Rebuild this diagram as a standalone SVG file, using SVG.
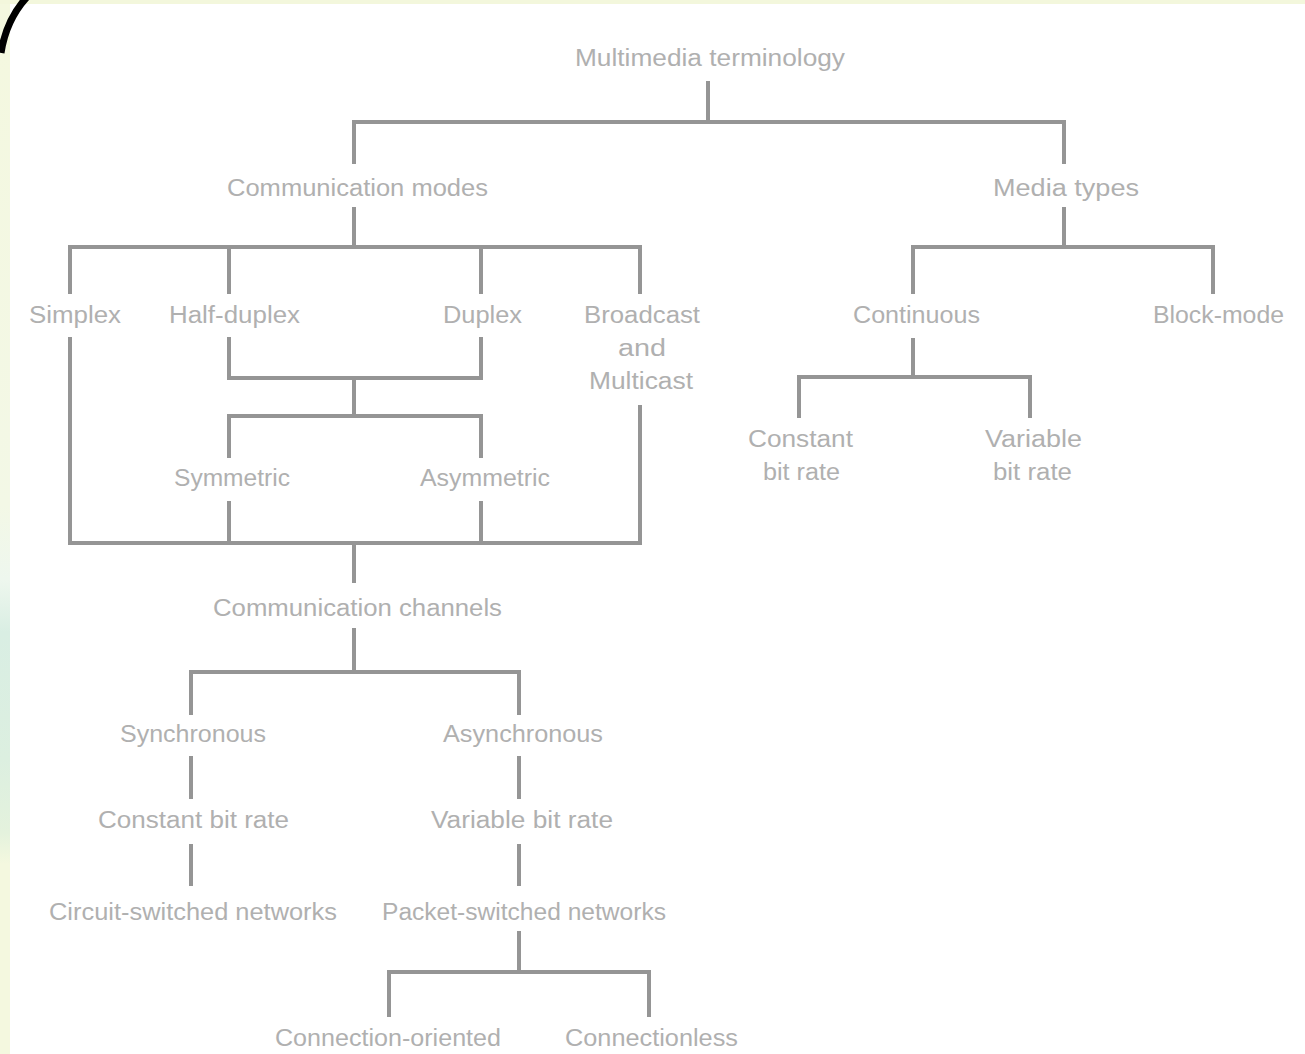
<svg xmlns="http://www.w3.org/2000/svg" width="1305" height="1054" viewBox="0 0 1305 1054">
  <defs>
    <linearGradient id="edge" x1="0" y1="0" x2="0" y2="1">
      <stop offset="0" stop-color="#f4f8df"/>
      <stop offset="0.48" stop-color="#f3f8e6"/>
      <stop offset="0.55" stop-color="#eef7ee"/>
      <stop offset="0.6" stop-color="#d9eee3"/>
      <stop offset="0.72" stop-color="#dcefe0"/>
      <stop offset="0.79" stop-color="#e4f2dd"/>
      <stop offset="0.82" stop-color="#f4f8df"/>
      <stop offset="1" stop-color="#f4f8df"/>
    </linearGradient>
  </defs>
  <style>
    .lbl { font-family: "Liberation Sans", Arial, sans-serif; font-size: 23px; fill: #b0b0b0; }
    .wire { fill: none; stroke: #959595; stroke-width: 4; stroke-linecap: butt; stroke-linejoin: miter; }
  </style>

  <!-- page background with the slide's tinted border -->
  <rect x="0" y="0" width="1305" height="1054" fill="#ffffff"/>
  <rect x="0" y="0" width="10" height="1054" fill="url(#edge)"/>
  <rect x="0" y="0" width="1305" height="4" fill="#f3f7dc"/>
  <path d="M1 53 Q 6 20 27 -3" fill="none" stroke="#000000" stroke-width="7"/>

  <!-- tree connectors -->
  <g id="connectors" class="wire">
    <path d="M708 81 V122"/>
    <path d="M354 164 V122 H1064 V164"/>
    <path d="M354 207 V247"/>
    <path d="M1064 207 V247"/>
    <path d="M70 294 V247 H640 V294"/>
    <path d="M229 247 V294"/>
    <path d="M481 247 V294"/>
    <path d="M229 337 V378 H481 V337"/>
    <path d="M354 378 V416"/>
    <path d="M229 458 V416 H481 V458"/>
    <path d="M229 501 V543"/>
    <path d="M481 501 V543"/>
    <path d="M70 337 V543 H640 V405"/>
    <path d="M354 543 V583"/>
    <path d="M354 628 V672"/>
    <path d="M191 715 V672 H519 V715"/>
    <path d="M191 756 V799"/>
    <path d="M519 756 V799"/>
    <path d="M191 844 V886"/>
    <path d="M519 844 V886"/>
    <path d="M519 931 V972"/>
    <path d="M389 1017 V972 H649 V1017"/>
    <path d="M913 294 V247 H1213 V294"/>
    <path d="M913 338 V377"/>
    <path d="M799 418 V377 H1030 V418"/>
  </g>

  <!-- nodes -->
  <g id="multimedia-terminology"><text class="lbl" x="575" y="66" textLength="270" lengthAdjust="spacingAndGlyphs">Multimedia terminology</text></g>
  <g id="communication-modes"><text class="lbl" x="227" y="196" textLength="261" lengthAdjust="spacingAndGlyphs">Communication modes</text></g>
  <g id="media-types"><text class="lbl" x="993" y="196" textLength="146" lengthAdjust="spacingAndGlyphs">Media types</text></g>
  <g id="simplex"><text class="lbl" x="29" y="323" textLength="92" lengthAdjust="spacingAndGlyphs">Simplex</text></g>
  <g id="half-duplex"><text class="lbl" x="169" y="323" textLength="131" lengthAdjust="spacingAndGlyphs">Half-duplex</text></g>
  <g id="duplex"><text class="lbl" x="443" y="323" textLength="79" lengthAdjust="spacingAndGlyphs">Duplex</text></g>
  <g id="broadcast-multicast">
    <text class="lbl" x="584" y="323" textLength="116" lengthAdjust="spacingAndGlyphs">Broadcast</text>
    <text class="lbl" x="618" y="356" textLength="48" lengthAdjust="spacingAndGlyphs">and</text>
    <text class="lbl" x="589" y="389" textLength="104" lengthAdjust="spacingAndGlyphs">Multicast</text>
  </g>
  <g id="continuous"><text class="lbl" x="853" y="323" textLength="127" lengthAdjust="spacingAndGlyphs">Continuous</text></g>
  <g id="block-mode"><text class="lbl" x="1153" y="323" textLength="131" lengthAdjust="spacingAndGlyphs">Block-mode</text></g>
  <g id="media-constant">
    <text class="lbl" x="748" y="447" textLength="105" lengthAdjust="spacingAndGlyphs">Constant</text>
    <text class="lbl" x="763" y="480" textLength="77" lengthAdjust="spacingAndGlyphs">bit rate</text>
  </g>
  <g id="media-variable">
    <text class="lbl" x="985" y="447" textLength="97" lengthAdjust="spacingAndGlyphs">Variable</text>
    <text class="lbl" x="993" y="480" textLength="79" lengthAdjust="spacingAndGlyphs">bit rate</text>
  </g>
  <g id="symmetric"><text class="lbl" x="174" y="486" textLength="116" lengthAdjust="spacingAndGlyphs">Symmetric</text></g>
  <g id="asymmetric"><text class="lbl" x="420" y="486" textLength="130" lengthAdjust="spacingAndGlyphs">Asymmetric</text></g>
  <g id="communication-channels"><text class="lbl" x="213" y="616" textLength="289" lengthAdjust="spacingAndGlyphs">Communication channels</text></g>
  <g id="synchronous"><text class="lbl" x="120" y="742" textLength="146" lengthAdjust="spacingAndGlyphs">Synchronous</text></g>
  <g id="asynchronous"><text class="lbl" x="443" y="742" textLength="160" lengthAdjust="spacingAndGlyphs">Asynchronous</text></g>
  <g id="constant-bit-rate"><text class="lbl" x="98" y="828" textLength="191" lengthAdjust="spacingAndGlyphs">Constant bit rate</text></g>
  <g id="variable-bit-rate"><text class="lbl" x="431" y="828" textLength="182" lengthAdjust="spacingAndGlyphs">Variable bit rate</text></g>
  <g id="circuit-switched"><text class="lbl" x="49" y="920" textLength="288" lengthAdjust="spacingAndGlyphs">Circuit-switched networks</text></g>
  <g id="packet-switched"><text class="lbl" x="382" y="920" textLength="284" lengthAdjust="spacingAndGlyphs">Packet-switched networks</text></g>
  <g id="connection-oriented"><text class="lbl" x="275" y="1046" textLength="226" lengthAdjust="spacingAndGlyphs">Connection-oriented</text></g>
  <g id="connectionless"><text class="lbl" x="565" y="1046" textLength="173" lengthAdjust="spacingAndGlyphs">Connectionless</text></g>
</svg>
